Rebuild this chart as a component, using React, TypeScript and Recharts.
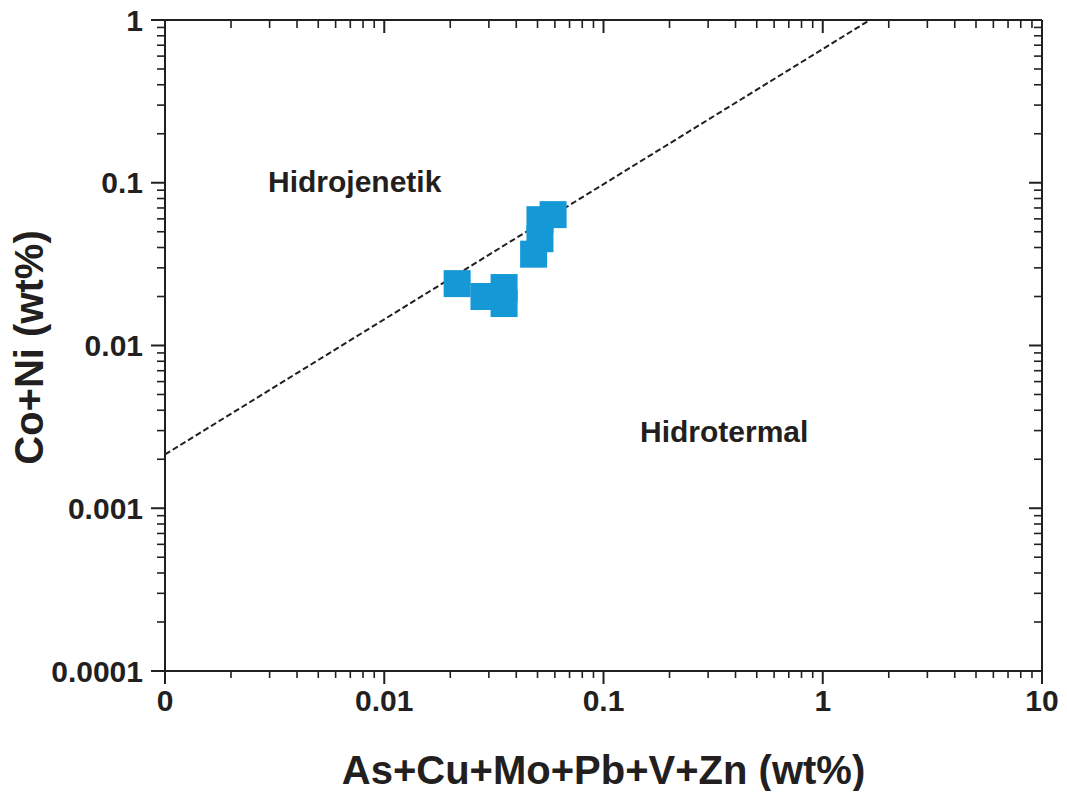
import React from 'react';
import { ScatterChart, Scatter, XAxis, YAxis, ReferenceDot } from 'recharts';

// Sample compositions (wt%)
const sampleAsCuMoPbVZn = [0.0215, 0.0285, 0.0352, 0.0352, 0.048, 0.0513, 0.0513, 0.0589];
const sampleCoNi = [0.024, 0.02, 0.0227, 0.0181, 0.0364, 0.0453, 0.0593, 0.0637];

// Hydrogenetic / hydrothermal discrimination line
const boundaryX = [0.001, 1.64];
const boundaryY = [0.00214, 1];

// Axis ticks and labels
const xMajorTicks = [0.001, 0.01, 0.1, 1, 10];
const xMajorLabels = ['0', '0.01', '0.1', '1', '10'];
const yMajorTicks = [0.0001, 0.001, 0.01, 0.1, 1];
const yMajorLabels = ['0.0001', '0.001', '0.01', '0.1', '1'];
const xMinorTicks = [
  0.002, 0.003, 0.004, 0.005, 0.006, 0.007, 0.008, 0.009,
  0.02, 0.03, 0.04, 0.05, 0.06, 0.07, 0.08, 0.09,
  0.2, 0.3, 0.4, 0.5, 0.6, 0.7, 0.8, 0.9,
  2, 3, 4, 5, 6, 7, 8, 9,
];
const yMinorTicks = [
  0.0002, 0.0003, 0.0004, 0.0005, 0.0006, 0.0007, 0.0008, 0.0009,
  0.002, 0.003, 0.004, 0.005, 0.006, 0.007, 0.008, 0.009,
  0.02, 0.03, 0.04, 0.05, 0.06, 0.07, 0.08, 0.09,
  0.2, 0.3, 0.4, 0.5, 0.6, 0.7, 0.8, 0.9,
];

// Field names and where their text starts
const fieldNames = ['Hidrojenetik', 'Hidrotermal'];
const fieldX = [0.00295, 0.1467];
const fieldY = [0.0881, 0.00254];

const xTitle = 'As+Cu+Mo+Pb+V+Zn (wt%)';
const yTitle = 'Co+Ni (wt%)';

const samples = sampleAsCuMoPbVZn.map((x, i) => ({ x, y: sampleCoNi[i] }));
const boundary = boundaryX.map((x, i) => ({ x, y: boundaryY[i] }));

const INK = '#231f20';
const FONT = '"Liberation Sans", Arial, Helvetica, sans-serif';
const MARKER = '#1599d6';
const XDOMAIN: [number, number] = [0.001, 10];
const YDOMAIN: [number, number] = [0.0001, 1];
// axes take (almost) no room; the chart margin reserves the space
const THIN = 0.01;

const labelFor = (ticks: number[], labels: string[]) => (v: number) => {
  const i = ticks.findIndex((t) => Math.abs(t - v) / t < 1e-6);
  return i >= 0 ? labels[i] : '';
};

const tickText = { fill: INK, fontSize: 30, fontWeight: 700, fontFamily: FONT };
const majorLine = { stroke: INK, strokeWidth: 2 };
const minorLine = { stroke: INK, strokeWidth: 1.6 };
const axisStroke = { stroke: INK, strokeWidth: 2 };

// tick marks only, no tick text
const Blank = () => <g />;

const SquareMarker = (props: any) => {
  const s = 27;
  return <rect x={props.cx - s / 2} y={props.cy - s / 2} width={s} height={s} fill={MARKER} />;
};

const FieldName = (text: string) => (props: any) => (
  <text
    x={props.cx}
    y={props.cy}
    fill={INK}
    fontSize={30}
    fontWeight={700}
    fontFamily={FONT}
    textAnchor="start"
  >
    {text}
  </text>
);

const YTitle = (props: any) => {
  const vb = props.viewBox || { x: 0, y: 0, width: 0, height: 0 };
  const cx = vb.x + vb.width - 136;
  const cy = vb.y + vb.height / 2 + 2;
  return (
    <text
      x={cx}
      y={cy}
      transform={`rotate(-90 ${cx} ${cy})`}
      textAnchor="middle"
      dominantBaseline="central"
      fill={INK}
      fontSize={40}
      fontWeight={700}
      fontFamily={FONT}
    >
      {yTitle}
    </text>
  );
};

export default function App() {
  return (
    <div style={{ width: 1059, height: 791, marginTop: -8 }}>
      <ScatterChart
        width={1059}
        height={799}
        margin={{ top: 20, right: 25, bottom: 128, left: 157 }}
      >
        {/* bottom axis */}
        <XAxis
          xAxisId="main"
          type="number"
          dataKey="x"
          scale="log"
          domain={XDOMAIN}
          allowDataOverflow
          ticks={xMajorTicks}
          interval={0}
          tickFormatter={labelFor(xMajorTicks, xMajorLabels)}
          tick={tickText}
          tickSize={13}
          tickMargin={6}
          tickLine={majorLine}
          axisLine={axisStroke}
          height={THIN}
          label={{
            value: xTitle,
            position: 'bottom',
            offset: 85,
            fill: INK,
            fontSize: 40,
            fontWeight: 700,
            fontFamily: FONT,
          }}
        />
        <XAxis
          xAxisId="bm"
          type="number"
          dataKey="x"
          scale="log"
          domain={XDOMAIN}
          allowDataOverflow
          ticks={xMinorTicks}
          interval={0}
          tick={Blank}
          tickSize={7}
          tickLine={minorLine}
          axisLine={false}
          height={THIN}
        />
        {/* top frame axis, ticks inside */}
        <XAxis
          xAxisId="top"
          orientation="top"
          type="number"
          dataKey="x"
          scale="log"
          domain={XDOMAIN}
          allowDataOverflow
          ticks={xMajorTicks}
          interval={0}
          tick={Blank}
          mirror
          tickSize={13}
          tickLine={majorLine}
          axisLine={axisStroke}
          height={THIN}
        />
        <XAxis
          xAxisId="tm"
          orientation="top"
          type="number"
          dataKey="x"
          scale="log"
          domain={XDOMAIN}
          allowDataOverflow
          ticks={xMinorTicks}
          interval={0}
          tick={Blank}
          mirror
          tickSize={8}
          tickLine={minorLine}
          axisLine={false}
          height={THIN}
        />
        {/* left axis */}
        <YAxis
          yAxisId="main"
          type="number"
          dataKey="y"
          scale="log"
          domain={YDOMAIN}
          allowDataOverflow
          ticks={yMajorTicks}
          interval={0}
          tickFormatter={labelFor(yMajorTicks, yMajorLabels)}
          tick={tickText}
          tickSize={14}
          tickMargin={8}
          tickLine={majorLine}
          axisLine={axisStroke}
          width={THIN}
          label={{ content: <YTitle /> }}
        />
        <YAxis
          yAxisId="lm"
          type="number"
          dataKey="y"
          scale="log"
          domain={YDOMAIN}
          allowDataOverflow
          ticks={yMinorTicks}
          interval={0}
          tick={Blank}
          tickSize={8}
          tickLine={minorLine}
          axisLine={false}
          width={THIN}
        />
        {/* right frame axis, ticks inside */}
        <YAxis
          yAxisId="right"
          orientation="right"
          type="number"
          dataKey="y"
          scale="log"
          domain={YDOMAIN}
          allowDataOverflow
          ticks={yMajorTicks}
          interval={0}
          tick={Blank}
          mirror
          tickSize={13}
          tickLine={majorLine}
          axisLine={axisStroke}
          width={THIN}
        />
        <YAxis
          yAxisId="rm"
          orientation="right"
          type="number"
          dataKey="y"
          scale="log"
          domain={YDOMAIN}
          allowDataOverflow
          ticks={yMinorTicks}
          interval={0}
          tick={Blank}
          mirror
          tickSize={8}
          tickLine={minorLine}
          axisLine={false}
          width={THIN}
        />

        <Scatter
          name="boundary"
          data={boundary}
          xAxisId="main"
          yAxisId="main"
          shape={Blank}
          line={{ stroke: INK, strokeWidth: 2, strokeDasharray: '6 3' }}
          isAnimationActive={false}
        />
        <Scatter
          name="samples"
          data={samples}
          xAxisId="main"
          yAxisId="main"
          shape={SquareMarker}
          isAnimationActive={false}
        />

        {fieldNames.map((name, i) => (
          <ReferenceDot
            key={name}
            x={fieldX[i]}
            y={fieldY[i]}
            xAxisId="main"
            yAxisId="main"
            r={0}
            ifOverflow="visible"
            shape={FieldName(name)}
          />
        ))}
      </ScatterChart>
    </div>
  );
}
